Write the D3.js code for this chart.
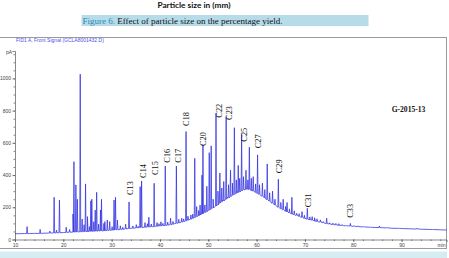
<!DOCTYPE html>
<html>
<head>
<meta charset="utf-8">
<script src="https://cdn.jsdelivr.net/npm/d3@7"></script>
<style>
  body { margin: 0; background: #fff; }
  svg { display: block; }
</style>
</head>
<body>
<div id="chart"></div>
<script>
// slow trace level of the FID signal, [minutes, pA]
const baseline = [
    [10, 36], [11, 36], [12, 37], [13, 37], [14, 38], [15, 38], [16, 39], [17, 40], [18, 41],
    [19, 42], [20, 43], [21, 45], [22, 46], [23, 47], [24, 49], [25, 50], [26, 51], [27, 53],
    [28, 54], [29, 56], [30, 58], [31, 61], [32, 63], [33, 67], [34, 70], [35, 72], [36, 75],
    [37, 77], [38, 79], [39, 82], [40, 85], [41, 88], [42, 92], [43, 98], [44, 104], [45, 112],
    [46, 122], [47, 134], [48, 148], [49, 162], [50, 180], [51, 200], [52, 222], [53, 244],
    [54, 262], [55, 282], [56, 298], [57, 310], [58, 312], [59, 302], [60, 288], [61, 268],
    [62, 248], [63, 228], [64, 210], [65, 192], [66, 176], [67, 162], [68, 150], [69, 140],
    [70, 130], [71, 121], [72, 114], [73, 108], [74, 102], [75, 96], [76, 92], [77, 88],
    [78, 86], [79, 84], [80, 82], [82, 78], [84, 75], [86, 73], [88, 70], [90, 68], [92, 66],
    [94, 64], [96, 62], [98, 60], [99.3, 59]
];

// peaks: [retention time, foot level, apex] in pA
const peaks = [
    [12.5, 37, 80], [15.2, 38, 63], [17.2, 40, 52], [18.1, 41, 262], [18.6, 41, 58],
    [19.2, 42, 245], [20.6, 44, 76], [21.3, 45, 62], [22.0, 46, 158], [22.2, 46, 483],
    [22.6, 47, 339], [22.9, 47, 250], [23.5, 48, 1026], [23.9, 48, 127], [24.3, 49, 92],
    [24.6, 49, 345], [25.0, 50, 142], [25.4, 50, 80], [25.7, 51, 240], [25.9, 51, 250],
    [26.3, 51, 110], [26.6, 52, 183], [26.9, 52, 293], [27.3, 53, 95], [27.7, 53, 183],
    [27.9, 53, 250], [28.4, 54, 100], [28.6, 55, 111], [29.1, 56, 121], [29.6, 57, 111],
    [30.1, 58, 80], [30.5, 59, 245], [30.8, 60, 262], [31.2, 61, 121], [31.8, 62, 85],
    [32.3, 63, 76], [32.9, 66, 95], [33.6, 68, 233], [34.4, 70, 84], [35.1, 72, 92],
    [35.5, 73, 82], [35.9, 74, 328], [36.2, 75, 363], [36.9, 76, 105], [37.4, 77, 98],
    [37.7, 78, 138], [38.2, 79, 96], [38.8, 80, 349], [39.4, 82, 105], [39.8, 84, 98],
    [40.2, 85, 110], [40.6, 86, 100], [41.1, 87, 456], [41.6, 89, 108], [42.2, 92, 132],
    [42.7, 95, 112], [43.4, 100, 456], [43.9, 103, 125], [44.5, 108, 132], [44.9, 111, 128],
    [45.4, 116, 670], [45.8, 120, 145], [46.4, 126, 152], [46.8, 131, 158], [47.2, 136, 504],
    [47.6, 142, 204], [48.0, 148, 180], [48.3, 152, 214], [48.7, 158, 400], [48.9, 161, 587],
    [49.3, 167, 215], [49.7, 173, 330], [50.2, 182, 539], [50.6, 190, 581], [51.0, 196, 250],
    [51.6, 208, 784], [52.0, 216, 300], [52.4, 226, 413], [52.8, 235, 320], [53.2, 240, 360],
    [53.7, 250, 763], [54.2, 258, 340], [54.6, 266, 430], [55.0, 274, 350], [55.4, 280, 694],
    [55.8, 287, 370], [56.2, 292, 460], [56.5, 296, 380], [56.9, 302, 653], [57.3, 308, 390],
    [57.8, 311, 430], [58.2, 312, 370], [58.5, 310, 573], [58.9, 306, 380], [59.3, 301, 390],
    [59.8, 292, 345], [60.2, 285, 525], [60.6, 280, 340], [61.2, 270, 350], [61.7, 258, 310],
    [62.2, 248, 469], [62.7, 238, 290], [63.3, 226, 300], [63.8, 214, 250], [64.5, 200, 374],
    [65.0, 192, 230], [65.5, 184, 250], [66.0, 176, 205], [66.3, 172, 230], [66.8, 165, 190],
    [67.3, 158, 262], [67.8, 154, 178], [68.3, 150, 163], [68.8, 144, 160], [69.4, 138, 173],
    [69.9, 132, 150], [70.5, 126, 194], [71.0, 124, 140], [71.5, 120, 142], [72.0, 116, 135],
    [72.5, 112, 128], [73.2, 108, 122], [73.8, 104, 112], [74.5, 99, 132], [75.1, 96, 104],
    [75.8, 93, 102], [76.4, 91, 100], [77.0, 89, 98], [77.7, 87, 93], [78.5, 85, 88],
    [79.4, 84, 100], [80.2, 82, 86], [81.0, 80, 85], [82.2, 78, 81], [83.5, 76, 79],
    [85.4, 74, 84], [87.0, 72, 75], [89.5, 69, 70], [93.2, 65, 70], [96.5, 62, 63]
];

// alkane labels: [name, minutes, pA at the foot of the label]
const peakLabels = [
    ["C13", 33.9, 276], ["C14", 36.5, 382], ["C15", 39.0, 400], ["C16", 41.4, 477],
    ["C17", 43.8, 477], ["C18", 45.5, 705], ["C20", 49.0, 580], ["C22", 52.3, 756],
    ["C23", 54.2, 742], ["C25", 57.3, 607], ["C27", 60.4, 566], ["C29", 64.7, 411],
    ["C31", 70.7, 200], ["C33", 79.4, 135]
];

const xMajor = [10, 20, 30, 40, 50, 60, 70, 80, 90];
const yMajor = [0, 200, 400, 600, 800, 1000];

var width = 449,
    height = 258;

var svg = d3.select("#chart")
    .append("svg")
    .attr("width", width)
    .attr("height", height);

// page text above the chart
svg.append("text")
    .attr("x", 194)
    .attr("y", 7.5)
    .attr("text-anchor", "middle")
    .style("font", "bold 8.3px Lato, sans-serif")
    .style("fill", "#111")
    .text("Particle size in (mm)");

svg.append("rect")
    .attr("x", 81.5).attr("y", 15)
    .attr("width", 287).attr("height", 11)
    .attr("fill", "#b6dcea");

var caption = svg.append("text")
    .attr("x", 82.5)
    .attr("y", 23.8)
    .style("font", "9px 'Liberation Serif', serif");
caption.append("tspan").attr("fill", "#2b8bb4").text("Figure 6. ");
caption.append("tspan").attr("fill", "#111").text("Effect of particle size on the percentage yield.");

// frame and bottom band
svg.append("rect")
    .attr("x", -1).attr("y", 37.5)
    .attr("width", 447.5).attr("height", 211)
    .attr("fill", "none")
    .attr("stroke", "#9a9a9a")
    .attr("stroke-width", 1);

svg.append("rect")
    .attr("x", 0).attr("y", 251.5)
    .attr("width", 447).attr("height", 7)
    .attr("fill", "#d6ecf3");

svg.append("text")
    .attr("x", 16)
    .attr("y", 41.6)
    .style("font", "5px 'Liberation Sans', sans-serif")
    .style("fill", "#5050e6")
    .text("FID1 A, Front Signal (GCLA8001432.D)");

// scales
var x = d3.scaleLinear().domain([10, 99.3]).range([15, 446.5]);
var y = d3.scaleLinear().domain([0, 1170]).range([239.5, 51]);

// x axis
svg.append("g")
    .attr("transform", "translate(0," + y(0) + ")")
    .call(d3.axisBottom(x).tickValues(xMajor).tickSize(2.5).tickPadding(1.2).tickFormat(d3.format("d")));
svg.append("g")
    .attr("transform", "translate(0," + y(0) + ")")
    .call(d3.axisBottom(x).tickValues(d3.range(12, 99, 2)).tickSize(1.5).tickFormat(""))
    .select(".domain").remove();

// y axis
svg.append("g")
    .attr("transform", "translate(" + x(10) + ",0)")
    .call(d3.axisLeft(y).tickValues(yMajor).tickSize(2.5).tickPadding(1.5).tickFormat(d3.format("d")));
svg.append("g")
    .attr("transform", "translate(" + x(10) + ",0)")
    .call(d3.axisLeft(y).tickValues(d3.range(50, 1170, 50)).tickSize(1.5).tickFormat(""))
    .select(".domain").remove();

svg.selectAll(".tick text")
    .style("font", "5px 'Liberation Sans', sans-serif")
    .style("fill", "#444");
svg.selectAll(".domain, .tick line")
    .attr("stroke", "#555")
    .attr("stroke-width", 0.7);

svg.append("text")
    .attr("x", 12)
    .attr("y", y(1170) + 3)
    .attr("text-anchor", "end")
    .style("font", "5px 'Liberation Sans', sans-serif")
    .style("fill", "#444")
    .text("pA");

svg.append("text")
    .attr("x", 445.5)
    .attr("y", y(0) + 7.5)
    .attr("text-anchor", "end")
    .style("font", "5px 'Liberation Sans', sans-serif")
    .style("fill", "#444")
    .text("min");

// build the trace: baseline points plus a narrow spike for each peak
var halfWidth = 0.1;
var pts = baseline.slice();
peaks.forEach(function(p) {
    pts.push([p[0] - halfWidth, p[1]]);
    pts.push([p[0], p[2]]);
    pts.push([p[0] + halfWidth, p[1]]);
});
pts.sort(function(a, b) { return a[0] - b[0]; });

var line = d3.line()
    .x(function(d) { return x(d[0]); })
    .y(function(d) { return y(d[1]); });

svg.append("path")
    .datum(pts)
    .attr("d", line)
    .attr("fill", "none")
    .attr("stroke", "#2f2fe0")
    .attr("stroke-width", 0.75)
    .attr("stroke-linejoin", "round");

// peak labels, rotated
peakLabels.forEach(function(l) {
    svg.append("text")
        .attr("transform", "translate(" + x(l[1]) + "," + y(l[2]) + ") rotate(-90)")
        .attr("dy", "0.35em")
        .style("font", "8.4px 'Liberation Serif', serif")
        .style("fill", "#111")
        .text(l[0]);
});

svg.append("text")
    .attr("x", 408.5)
    .attr("y", 111.5)
    .attr("text-anchor", "middle")
    .style("font", "bold 7.6px 'Liberation Serif', serif")
    .style("fill", "#111")
    .text("G-2015-13");
</script>
</body>
</html>
